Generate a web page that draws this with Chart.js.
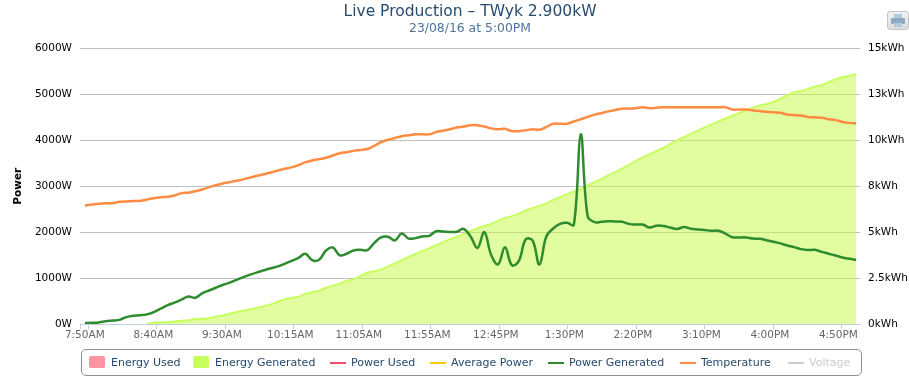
<!DOCTYPE html>
<html>
<head>
<meta charset="utf-8">
<script src="https://cdn.jsdelivr.net/npm/chart.js@4"></script>
<style>
  html, body { margin: 0; padding: 0; background: #fff; overflow: hidden; }
  #wrap { position: relative; width: 909px; height: 380px; font-family: "DejaVu Sans", sans-serif; }
  #chart { position: absolute; left: 0; top: 0; }
  #legend { position: absolute; left: 81px; top: 349px; width: 779px; height: 25px; border: 1px solid #909090; border-radius: 5px; font-size: 11px; color: #274b6d; }
  #legend span { position: absolute; top: 6px; line-height: 14px; white-space: nowrap; }
  #legend i { position: absolute; }
  #print { position: absolute; left: 887px; top: 11px; width: 22px; height: 19px; box-sizing: border-box; border: 1px solid #c4c4c4; border-radius: 3px; background: linear-gradient(#f2f2f2, #dcdcdc); }
</style>
</head>
<body>
<div id="wrap">
  <canvas id="chart" width="909" height="380"></canvas>
  <div id="legend"></div>
  <div id="print">
    <svg width="20" height="17" viewBox="0 0 20 17">
      <rect x="6" y="2" width="8" height="5" fill="#b4c8dd"/>
      <rect x="3" y="6" width="14" height="6" rx="1" fill="#8fa9c4"/>
      <rect x="6" y="11" width="8" height="4" fill="#b4c8dd"/>
    </svg>
  </div>
</div>
<script>
const tickLabels = ["7:50AM", "8:40AM", "9:30AM", "10:15AM", "11:05AM", "11:55AM", "12:45PM", "1:30PM", "2:20PM", "3:10PM", "4:00PM", "4:50PM"];
const energyTickLabels = ["0kWh", "2.5kWh", "5kWh", "8kWh", "10kWh", "13kWh", "15kWh"];

// one reading every 5 minutes
const powerGenerated = [20, 25, 35, 60, 75, 90, 150, 180, 190, 210,
  260, 335, 410, 465, 530, 600, 570, 665, 730, 790,
  850, 900, 960, 1020, 1075, 1125, 1170, 1215, 1255, 1310,
  1375, 1440, 1530, 1390, 1400, 1600, 1665, 1495, 1530, 1600,
  1615, 1610, 1760, 1885, 1900, 1820, 1970, 1860, 1870, 1905,
  1920, 2020, 2015, 2005, 2010, 2070, 1905, 1655, 2000, 1500,
  1300, 1670, 1280, 1370, 1840, 1820, 1295, 1905, 2080, 2180,
  2205, 2160, 4130, 2350, 2220, 2225, 2240, 2230, 2225, 2180,
  2165, 2165, 2100, 2140, 2135, 2100, 2070, 2110, 2075, 2060,
  2045, 2030, 2030, 1970, 1890, 1885, 1885, 1860, 1855, 1825,
  1790, 1755, 1710, 1675, 1630, 1610, 1615, 1570, 1530, 1490,
  1450, 1420, 1400];

const temperature = [25.8, 26.0, 26.2, 26.3, 26.3, 26.6, 26.7, 26.8, 26.8, 27.1,
  27.4, 27.6, 27.7, 28.0, 28.5, 28.6, 28.9, 29.3, 29.8, 30.2,
  30.6, 30.9, 31.2, 31.5, 31.9, 32.3, 32.6, 33.0, 33.4, 33.8,
  34.1, 34.6, 35.2, 35.6, 35.9, 36.2, 36.7, 37.2, 37.4, 37.7,
  37.9, 38.1, 38.8, 39.6, 40.1, 40.5, 40.9, 41.1, 41.3, 41.3,
  41.3, 41.8, 42.1, 42.4, 42.8, 43.0, 43.3, 43.3, 43.0, 42.6,
  42.4, 42.5, 42.0, 42.0, 42.2, 42.4, 42.3, 42.9, 43.6, 43.6,
  43.6, 44.1, 44.6, 45.1, 45.6, 45.9, 46.3, 46.6, 46.9, 46.9,
  47.0, 47.2, 47.0, 47.1, 47.2, 47.2, 47.2, 47.2, 47.2, 47.2,
  47.2, 47.2, 47.2, 47.2, 46.7, 46.7, 46.7, 46.5, 46.4, 46.2,
  46.1, 46.0, 45.6, 45.5, 45.4, 45.1, 45.0, 44.9, 44.6, 44.4,
  44.0, 43.8, 43.7];

const energyGenerated = [null, null, null, null, null, null, null, null, null, 0,
  0.08, 0.09, 0.09, 0.13, 0.18, 0.2, 0.27, 0.29, 0.31, 0.4,
  0.47, 0.56, 0.65, 0.72, 0.81, 0.88, 0.97, 1.07, 1.21, 1.35,
  1.41, 1.48, 1.64, 1.73, 1.81, 1.97, 2.08, 2.2, 2.35, 2.42,
  2.6, 2.8, 2.87, 2.96, 3.14, 3.3, 3.47, 3.65, 3.81, 3.97,
  4.13, 4.3, 4.46, 4.62, 4.75, 4.89, 5.05, 5.22, 5.34, 5.45,
  5.61, 5.78, 5.87, 6.01, 6.19, 6.32, 6.43, 6.57, 6.75, 6.91,
  7.07, 7.22, 7.35, 7.54, 7.72, 7.9, 8.09, 8.27, 8.46, 8.66,
  8.88, 9.07, 9.25, 9.42, 9.58, 9.8, 10.0, 10.17, 10.35, 10.53,
  10.7, 10.87, 11.03, 11.19, 11.34, 11.48, 11.63, 11.78, 11.9, 11.98,
  12.09, 12.27, 12.45, 12.62, 12.67, 12.8, 12.93, 13.0, 13.17, 13.33,
  13.43, 13.52, 13.6];

const legendItems = [
  { label: "Energy Used", color: "#ff94a5", box: true, swatch: 7, text: 29 },
  { label: "Energy Generated", color: "#c6ff5e", box: true, swatch: 111, text: 133 },
  { label: "Power Used", color: "#ff4a64", swatch: 248, text: 269 },
  { label: "Average Power", color: "#ffc800", swatch: 348, text: 369 },
  { label: "Power Generated", color: "#2e8b2e", swatch: 466, text: 487 },
  { label: "Temperature", color: "#ff8c42", swatch: 598, text: 619 },
  { label: "Voltage", color: "#cccccc", off: true, swatch: 706, text: 727 }
];

const legend = document.getElementById("legend");
legendItems.forEach((item) => {
  const swatch = document.createElement("i");
  swatch.style.left = item.swatch + "px";
  swatch.style.width = "16px";
  swatch.style.background = item.color;
  if (item.box) {
    swatch.style.top = "6px";
    swatch.style.height = "12px";
    swatch.style.borderRadius = "2px";
  } else {
    swatch.style.top = "12px";
    swatch.style.height = "2px";
  }
  legend.appendChild(swatch);
  const text = document.createElement("span");
  text.style.left = item.text + "px";
  text.textContent = item.label;
  if (item.off) text.style.color = "#cccccc";
  legend.appendChild(text);
});

const toPoints = (values) => values.map((v, i) => ({ x: i, y: v }));

new Chart(document.getElementById("chart"), {
  type: "line",
  data: {
    datasets: [{
      label: "Energy Generated",
      data: toPoints(energyGenerated),
      yAxisID: "yEnergy",
      borderColor: "#c6ff5e",
      borderWidth: 2,
      backgroundColor: "rgba(196,251,64,0.5)",
      fill: "origin",
      tension: 0,
      order: 3
    }, {
      label: "Temperature",
      data: toPoints(temperature),
      yAxisID: "yTemp",
      borderColor: "#ff8c42",
      borderWidth: 2.5,
      tension: 0.3,
      order: 2
    }, {
      label: "Power Generated",
      data: toPoints(powerGenerated),
      yAxisID: "y",
      borderColor: "#2e8b2e",
      borderWidth: 2.5,
      tension: 0.4,
      order: 1
    }]
  },
  options: {
    responsive: false,
    animation: false,
    elements: { point: { radius: 0 } },
    layout: { padding: { bottom: 30 } },
    plugins: {
      legend: { display: false },
      tooltip: { enabled: false },
      title: {
        display: true,
        fullSize: false,
        text: "Live Production – TWyk 2.900kW",
        color: "#274b6d",
        font: { family: "DejaVu Sans", size: 15.5, weight: "normal" },
        padding: { top: 3, bottom: 0 }
      },
      subtitle: {
        display: true,
        fullSize: false,
        text: "23/08/16 at 5:00PM",
        color: "#4d759e",
        font: { family: "DejaVu Sans", size: 12.4, weight: "normal" },
        padding: { top: 0, bottom: 12 }
      }
    },
    scales: {
      x: {
        type: "linear",
        min: -0.726,
        max: 112.56,
        afterBuildTicks: (scale) => {
          // tick marks sit half a slot right of their labels
          const ticks = [{ value: scale.min }];
          tickLabels.forEach((l, i) => ticks.push({ value: 0.48 + i * 9.95 }));
          scale.ticks = ticks;
        },
        afterFit: (scale) => { scale.height = 26; },
        ticks: {
          autoSkip: false,
          maxRotation: 0,
          labelOffset: -3.5,
          padding: 0,
          color: "#666666",
          font: { family: "DejaVu Sans", size: 10.5 },
          callback: (value, index) => index === 0 ? "" : tickLabels[index - 1]
        },
        grid: { drawOnChartArea: false, tickLength: 5, tickColor: "#c0d0e0" },
        border: { color: "#c0d0e0" }
      },
      y: {
        position: "left",
        min: 0,
        max: 6000,
        afterFit: (scale) => { scale.width = 80; },
        ticks: {
          stepSize: 1000,
          padding: 8,
          color: "#000000",
          font: { family: "DejaVu Sans", size: 10.5 },
          callback: (value) => value + "W"
        },
        grid: { color: "#c0c0c0", drawTicks: false },
        border: { display: false },
        title: {
          display: true,
          text: "Power",
          color: "#000000",
          font: { family: "DejaVu Sans", size: 10.5, weight: "bold" },
          padding: { top: 12, bottom: 0 }
        }
      },
      yEnergy: {
        position: "right",
        min: 0,
        max: 15,
        afterFit: (scale) => { scale.width = 49; },
        ticks: {
          stepSize: 2.5,
          padding: 8,
          color: "#000000",
          font: { family: "DejaVu Sans", size: 10.5 },
          callback: (value, index) => energyTickLabels[index]
        },
        grid: { display: false, drawTicks: false },
        border: { display: false }
      },
      yTemp: { display: false, min: 0, max: 60 }
    }
  }
});
</script>
</body>
</html>
